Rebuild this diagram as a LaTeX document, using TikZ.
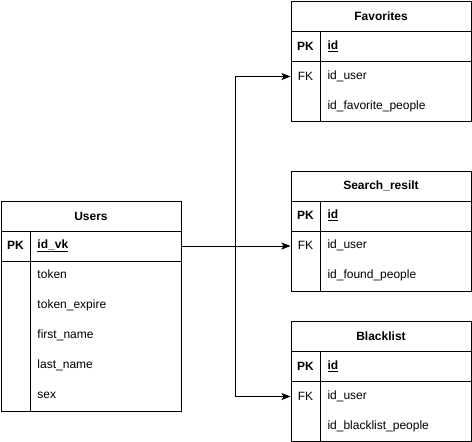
\documentclass[tikz,border=0pt]{standalone}
\usepackage{fontspec}
\setmainfont{Liberation Sans}
\usetikzlibrary{arrows.meta}
\tikzset{
  font={\fontsize{12pt}{14}\selectfont},
  tabtitle/.style={draw, minimum width=180, minimum height=30, anchor=north west, font=\fontsize{12pt}{14}\selectfont\bfseries},
  tabrow/.style={minimum width=180, minimum height=30, anchor=north west},
  tabkey/.style={font=\fontsize{12pt}{14}\selectfont\bfseries},
  tabfield/.style={anchor=west, text height=9pt, text depth=2.5pt},
  fklink/.style={-{Stealth[length=9pt, width=7pt, inset=2pt]}}}

\begin{document}
\begin{tikzpicture}[x=1pt, y=-1pt, line width=1pt]
\tikzstyle{every node}+=[inner sep=0pt]
\useasboundingbox (0,0) rectangle (472,442);
% Users
\node[tabtitle] (users) at (0.5,200.5) {Users};
\node[tabrow, draw] (users-pk) at (0.5,230.5) {};
\node[tabrow, draw, minimum height=150] (users-body) at (0.5,260.5) {};
\draw ([xshift=30pt]users-pk.north west) -- ([xshift=30pt]users-body.south west);
\node[tabkey] (users-pk-key) at (15.5,245.5) {PK};
\node[tabfield, font=\fontsize{12pt}{14}\selectfont\bfseries] (users-id) at (37,245.5) {\underline{id\_vk}};
\foreach \f [count=\i] in {token, token\_expire, first\_name, last\_name, sex}
  \node[tabfield] (users-f\i) at (37,245.5+30*\i) {\f};
% Favorites
\node[tabtitle] (fav) at (290.5,1) {Favorites};
\node[tabrow, draw] (fav-pk) at (290.5,31) {};
\node[tabrow, draw, minimum height=60] (fav-body) at (290.5,61) {};
\node[tabrow] (fav-fk) at (290.5,61) {};
\draw ([xshift=30pt]fav-pk.north west) -- ([xshift=30pt]fav-body.south west);
\node[tabkey] (fav-pk-key) at (305.5,46) {PK};
\node[tabfield, font=\fontsize{12pt}{14}\selectfont\bfseries] (fav-id) at (327,46) {\underline{id}};
\node (fav-fk-key) at (305.5,76) {FK};
\node[tabfield] (fav-user) at (327,76) {id\_user};
\node[tabfield] (fav-people) at (327,106) {id\_favorite\_people};
% Search_resilt
\node[tabtitle] (search) at (290.5,170.5) {Search\_resilt};
\node[tabrow, draw] (search-pk) at (290.5,200.5) {};
\node[tabrow, draw, minimum height=60] (search-body) at (290.5,230.5) {};
\node[tabrow] (search-fk) at (290.5,230.5) {};
\draw ([xshift=30pt]search-pk.north west) -- ([xshift=30pt]search-body.south west);
\node[tabkey] (search-pk-key) at (305.5,215.5) {PK};
\node[tabfield, font=\fontsize{12pt}{14}\selectfont\bfseries] (search-id) at (327,215.5) {\underline{id}};
\node (search-fk-key) at (305.5,245.5) {FK};
\node[tabfield] (search-user) at (327,245.5) {id\_user};
\node[tabfield] (search-people) at (327,275.5) {id\_found\_people};
% Blacklist
\node[tabtitle] (black) at (290.5,321) {Blacklist};
\node[tabrow, draw] (black-pk) at (290.5,351) {};
\node[tabrow, draw, minimum height=60] (black-body) at (290.5,381) {};
\node[tabrow] (black-fk) at (290.5,381) {};
\draw ([xshift=30pt]black-pk.north west) -- ([xshift=30pt]black-body.south west);
\node[tabkey] (black-pk-key) at (305.5,366) {PK};
\node[tabfield, font=\fontsize{12pt}{14}\selectfont\bfseries] (black-id) at (327,366) {\underline{id}};
\node (black-fk-key) at (305.5,396) {FK};
\node[tabfield] (black-user) at (327,396) {id\_user};
\node[tabfield] (black-people) at (327,426) {id\_blacklist\_people};
% links
\coordinate (split) at (235,245.5);
\draw[fklink] (users-pk.east) -- (search-fk.west);
\draw[fklink] (split) |- (fav-fk.west);
\draw[fklink] (split) |- (black-fk.west);
\end{tikzpicture}
\end{document}
